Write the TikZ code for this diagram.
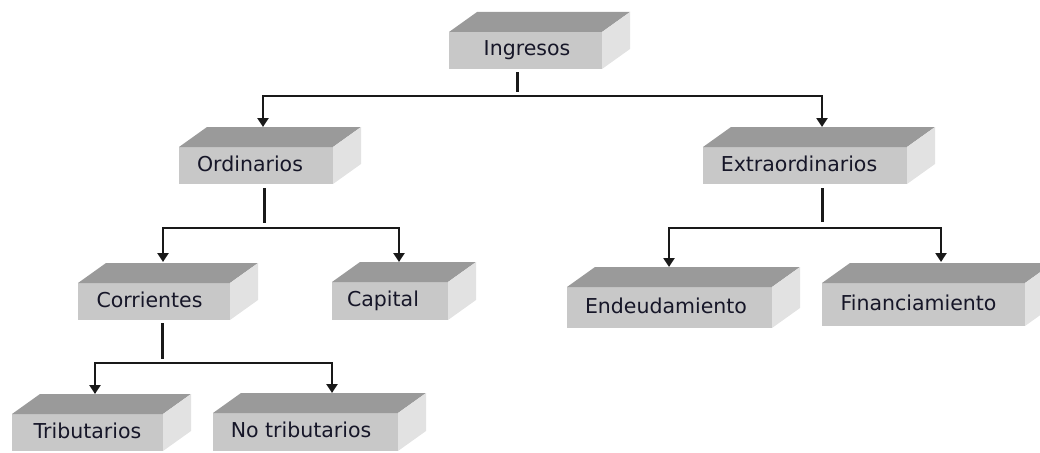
\documentclass[tikz,border=0pt]{standalone}
\usepackage{fontspec}
\setmainfont{DejaVu Sans}
\usetikzlibrary{arrows.meta}
\definecolor{topc}{HTML}{9A9A9A}
\definecolor{frontc}{HTML}{C8C8C8}
\definecolor{sidec}{HTML}{E2E2E2}
\definecolor{txtc}{RGB}{22,22,40}
\tikzset{
  face/.style={fill=frontc, inner sep=0pt, outer sep=0pt},
  lbl/.style={text=txtc, inner sep=0pt, font=\fontsize{20.5}{24}\selectfont, text height=15pt, text depth=4pt},
  ln/.style={line width=3pt, draw=black!90},
  arr/.style={line width=2.8pt, draw=black!90, -{Triangle[width=11pt,length=9pt]}},
}
% name, cx, cy, w, h, text xshift, text
\newcommand\cubebox[7]{%
  \node[face, minimum width=#4pt, minimum height=#5pt] (#1) at (#2,#3) {};
  \fill[topc] (#1.north west) -- ++(28,-20) -- ([shift={(28,-20)}]#1.north east) -- (#1.north east) -- cycle;
  \fill[sidec] (#1.north east) -- ++(28,-20) -- ([shift={(28,-20)}]#1.south east) -- (#1.south east) -- cycle;
  \node[lbl] (#1-t) at ([xshift=#6pt]#1.center) {#7};
}
\begin{document}
\begin{tikzpicture}[x=1pt,y=-1pt]
\useasboundingbox (0,0) rectangle (1040,452);
\clip (0,0) rectangle (1040,452);
\cubebox{ing}{525.5}{50.5}{153}{37}{1.5}{Ingresos}
\cubebox{ord}{256}{165.5}{154}{37}{-6}{Ordinarios}
\cubebox{ext}{805}{165.5}{204}{37}{-6}{Extraordinarios}
\cubebox{cor}{154}{301.5}{152}{37}{-4.5}{Corrientes}
\cubebox{cap}{390}{301}{116}{38}{-7}{Capital}
\cubebox{end}{669.5}{307.5}{205}{41}{-3.5}{Endeudamiento}
\cubebox{fin}{923.5}{304.5}{203}{43}{-5}{Financiamiento}
\cubebox{tri}{87.5}{432.5}{151}{37}{0}{Tributarios}
\cubebox{not}{305.5}{432}{185}{38}{-4.5}{No tributarios}
% junctions and targets
\coordinate (sI) at (517,72);  \coordinate (eI) at (517,92);  \coordinate (hI) at (517,96);
\coordinate (tOrd) at (263,127); \coordinate (tExt) at (822,127);
\coordinate (sO) at (264,188); \coordinate (eO) at (264,223); \coordinate (hO) at (264,228);
\coordinate (tCor) at (163,262); \coordinate (tCap) at (399,262);
\coordinate (sE) at (822,188); \coordinate (eE) at (822,222); \coordinate (hE) at (822,228);
\coordinate (tEnd) at (669,267); \coordinate (tFin) at (941,262);
\coordinate (sC) at (162,323); \coordinate (eC) at (162,359); \coordinate (hC) at (162,363);
\coordinate (tTri) at (95,394); \coordinate (tNot) at (332,393);
% connectors
\draw[ln] (sI) -- (eI);
\draw[arr] (hI) -| (tOrd);
\draw[arr] (hI) -| (tExt);
\draw[ln] (sO) -- (eO);
\draw[arr] (hO) -| (tCor);
\draw[arr] (hO) -| (tCap);
\draw[ln] (sE) -- (eE);
\draw[arr] (hE) -| (tEnd);
\draw[arr] (hE) -| (tFin);
\draw[ln] (sC) -- (eC);
\draw[arr] (hC) -| (tTri);
\draw[arr] (hC) -| (tNot);
\end{tikzpicture}
\end{document}
